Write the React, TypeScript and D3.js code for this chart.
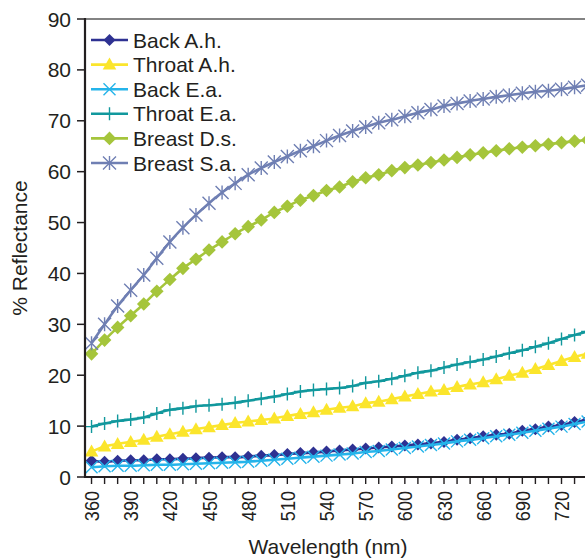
import React, { useRef, useEffect } from "react";
import * as d3 from "d3";

// wavelengths (nm), one reading every 10 nm
const wavelengths = [
  360, 370, 380, 390, 400, 410, 420, 430, 440, 450, 460, 470, 480, 490, 500,
  510, 520, 530, 540, 550, 560, 570, 580, 590, 600, 610, 620, 630, 640, 650,
  660, 670, 680, 690, 700, 710, 720, 730, 740,
];

const backAh = [
  3.2, 3.0, 3.2, 3.3, 3.3, 3.5, 3.5, 3.6, 3.7, 3.8, 3.9, 3.9, 4.0, 4.2, 4.3,
  4.5, 4.7, 4.8, 5.0, 5.2, 5.4, 5.6, 5.8, 6.0, 6.2, 6.4, 6.6, 6.9, 7.3, 7.6,
  8.0, 8.3, 8.5, 9.1, 9.4, 9.9, 10.2, 10.8, 11.2,
];
const throatAh = [
  5.0, 6.0, 6.5, 6.9, 7.3, 7.9, 8.4, 8.9, 9.4, 9.8, 10.2, 10.6, 10.9, 11.2, 11.5,
  12.0, 12.4, 12.7, 13.2, 13.6, 13.9, 14.5, 14.8, 15.3, 15.8, 16.3, 16.8, 17.1, 17.7, 18.2,
  18.6, 19.2, 19.9, 20.5, 21.2, 22.0, 22.8, 23.6, 24.2,
];
const backEa = [
  1.9, 2.1, 2.2, 2.2, 2.3, 2.4, 2.4, 2.5, 2.6, 2.7, 2.8, 2.9, 3.0, 3.2, 3.4,
  3.6, 3.8, 4.0, 4.2, 4.4, 4.6, 4.9, 5.1, 5.4, 5.7, 6.0, 6.3, 6.6, 7.0, 7.3,
  7.6, 8.0, 8.3, 8.7, 9.1, 9.5, 9.9, 10.4, 10.9,
];
const throatEa = [
  9.9, 10.5, 11.0, 11.3, 11.7, 12.5, 13.2, 13.5, 13.9, 14.1, 14.3, 14.6, 15.0, 15.4, 15.8,
  16.3, 16.8, 17.1, 17.3, 17.5, 17.9, 18.5, 18.8, 19.3, 19.9, 20.5, 20.9, 21.5, 22.1, 22.6,
  23.1, 23.7, 24.3, 24.9, 25.6, 26.3, 27.1, 27.9, 28.6,
];
const breastDs = [
  24.2, 26.9, 29.4, 31.7, 34.0, 36.5, 38.8, 41.0, 42.8, 44.6, 46.2, 47.8, 49.2, 50.5, 52.0,
  53.2, 54.4, 55.3, 56.3, 57.0, 58.0, 58.8, 59.4, 60.2, 60.8, 61.3, 61.8, 62.3, 62.8, 63.3,
  63.7, 64.1, 64.5, 64.8, 65.1, 65.4, 65.7, 66.0, 66.2,
];
const breastSa = [
  26.3, 30.0, 33.6, 36.7, 39.7, 43.0, 46.2, 49.0, 51.5, 53.8, 55.9, 57.7, 59.4, 60.7, 61.9,
  63.0, 64.1, 65.0, 66.1, 67.1, 68.0, 68.8, 69.6, 70.2, 70.9, 71.6, 72.2, 72.9, 73.4, 73.9,
  74.3, 74.7, 75.0, 75.4, 75.7, 75.9, 76.2, 76.6, 77.0,
];

const seriesNames = ["Back A.h.", "Throat A.h.", "Back E.a.", "Throat E.a.", "Breast D.s.", "Breast S.a."];
const seriesValues = [backAh, throatAh, backEa, throatEa, breastDs, breastSa];
const seriesColors = ["#2e3192", "#fbe52c", "#25b4ea", "#11989d", "#a5c53b", "#6f7fb3"];
const seriesMarkers = ["diamond", "triangle", "cross", "plus", "bigDiamond", "asterisk"];

const yTicks = [0, 10, 20, 30, 40, 50, 60, 70, 80, 90];
const xTickLabels = [360, 390, 420, 450, 480, 510, 540, 570, 600, 630, 660, 690, 720];

// marker path centred on 0,0
function markerPath(kind: string): string {
  switch (kind) {
    case "diamond":
      return "M0,-6L6,0L0,6L-6,0Z";
    case "bigDiamond":
      return "M0,-6.8L6.8,0L0,6.8L-6.8,0Z";
    case "triangle":
      return "M0,-7L6.8,5L-6.8,5Z";
    case "cross":
      return "M-6,-6L6,6M-6,6L6,-6";
    case "plus":
      return "M0,-6.5L0,6.5M-6.5,0L6.5,0";
    case "asterisk":
      return "M0,-7L0,7M-6.5,-6.5L6.5,6.5M-6.5,6.5L6.5,-6.5";
    default:
      return "";
  }
}
const filledMarkers = ["diamond", "bigDiamond", "triangle"];

function ReflectanceChart() {
  const svgRef = useRef<SVGSVGElement>(null);

  useEffect(() => {
    const width = 585;
    const height = 560;
    const font = "'Liberation Sans', Arial, Helvetica, sans-serif";
    const ink = "#231f20";
    const fontSize = 21;

    const svg = d3.select(svgRef.current).attr("width", width).attr("height", height);
    svg.selectAll("*").remove();

    const x = d3.scaleLinear().domain([355, 738]).range([85, 585]);
    const y = d3.scaleLinear().domain([0, 90]).range([477, 19]);

    // top frame line
    svg.append("line")
      .attr("x1", 85).attr("x2", width)
      .attr("y1", y(90)).attr("y2", y(90))
      .attr("stroke", "#5a5a5a").attr("stroke-width", 1.5);

    // series
    const line = d3.line<number>()
      .x((_, i) => x(wavelengths[i]))
      .y((d) => y(d))
      .curve(d3.curveMonotoneX);

    seriesValues.forEach((vals, si) => {
      const color = seriesColors[si];
      const kind = seriesMarkers[si];
      const g = svg.append("g");
      g.append("path")
        .attr("d", line(vals))
        .attr("fill", "none")
        .attr("stroke", color)
        .attr("stroke-width", 2.6);
      const filled = filledMarkers.includes(kind);
      g.selectAll("path.m")
        .data(vals)
        .enter()
        .append("path")
        .attr("class", "m")
        .attr("transform", (d, i) => `translate(${x(wavelengths[i])},${y(d)})`)
        .attr("d", markerPath(kind))
        .attr("fill", filled ? color : "none")
        .attr("stroke", color)
        .attr("stroke-width", filled ? 0 : 1.4);
    });

    // y axis
    const yAxis = svg.append("g");
    yAxis.append("line")
      .attr("x1", 85).attr("x2", 85)
      .attr("y1", y(90) - 1).attr("y2", y(0) + 1)
      .attr("stroke", ink).attr("stroke-width", 2.2);
    yTicks.forEach((t) => {
      yAxis.append("line")
        .attr("x1", 77).attr("x2", 85)
        .attr("y1", y(t)).attr("y2", y(t))
        .attr("stroke", ink).attr("stroke-width", 1.5);
      yAxis.append("text")
        .attr("x", 71).attr("y", y(t))
        .attr("dy", "0.36em")
        .attr("text-anchor", "end")
        .attr("font-family", font)
        .attr("font-size", fontSize)
        .attr("fill", ink)
        .text(t);
    });

    // x axis
    const xAxis = svg.append("g");
    xAxis.append("line")
      .attr("x1", 84).attr("x2", width)
      .attr("y1", y(0)).attr("y2", y(0))
      .attr("stroke", ink).attr("stroke-width", 2.2);
    wavelengths.forEach((w) => {
      xAxis.append("line")
        .attr("x1", x(w)).attr("x2", x(w))
        .attr("y1", y(0)).attr("y2", y(0) + 7)
        .attr("stroke", ink).attr("stroke-width", 1.4);
    });
    // rotated labels are narrower along the text direction in the original
    xTickLabels.forEach((w) => {
      xAxis.append("text")
        .attr("transform", `translate(${x(w)},${y(0) + 14}) rotate(-90) scale(0.86,1)`)
        .attr("dy", "0.36em")
        .attr("text-anchor", "end")
        .attr("font-family", font)
        .attr("font-size", fontSize)
        .attr("fill", ink)
        .text(w);
    });

    // axis titles
    svg.append("text")
      .attr("transform", `translate(27, ${y(45)}) rotate(-90)`)
      .attr("text-anchor", "middle")
      .attr("font-family", font)
      .attr("font-size", fontSize)
      .attr("fill", ink)
      .text("% Reflectance");

    svg.append("text")
      .attr("x", 328).attr("y", 554)
      .attr("text-anchor", "middle")
      .attr("font-family", font)
      .attr("font-size", fontSize)
      .attr("fill", ink)
      .text("Wavelength (nm)");

    // legend
    const legend = svg.append("g").attr("transform", "translate(91, 40)");
    seriesNames.forEach((name, i) => {
      const row = legend.append("g").attr("transform", `translate(0, ${i * 24.6})`);
      const kind = seriesMarkers[i];
      const filled = filledMarkers.includes(kind);
      row.append("line")
        .attr("x1", 0).attr("x2", 37)
        .attr("stroke", seriesColors[i]).attr("stroke-width", 2.6);
      row.append("path")
        .attr("transform", "translate(18.5, 0)")
        .attr("d", markerPath(kind))
        .attr("fill", filled ? seriesColors[i] : "none")
        .attr("stroke", seriesColors[i])
        .attr("stroke-width", filled ? 0 : 1.4);
      row.append("text")
        .attr("x", 42).attr("y", 0)
        .attr("dy", "0.36em")
        .attr("font-family", font)
        .attr("font-size", fontSize)
        .attr("fill", ink)
        .text(name);
    });
  }, []);

  return <svg ref={svgRef} style={{ position: "absolute", left: 0, top: 0 }}></svg>;
}

export default function App() {
  return <ReflectanceChart />;
}
